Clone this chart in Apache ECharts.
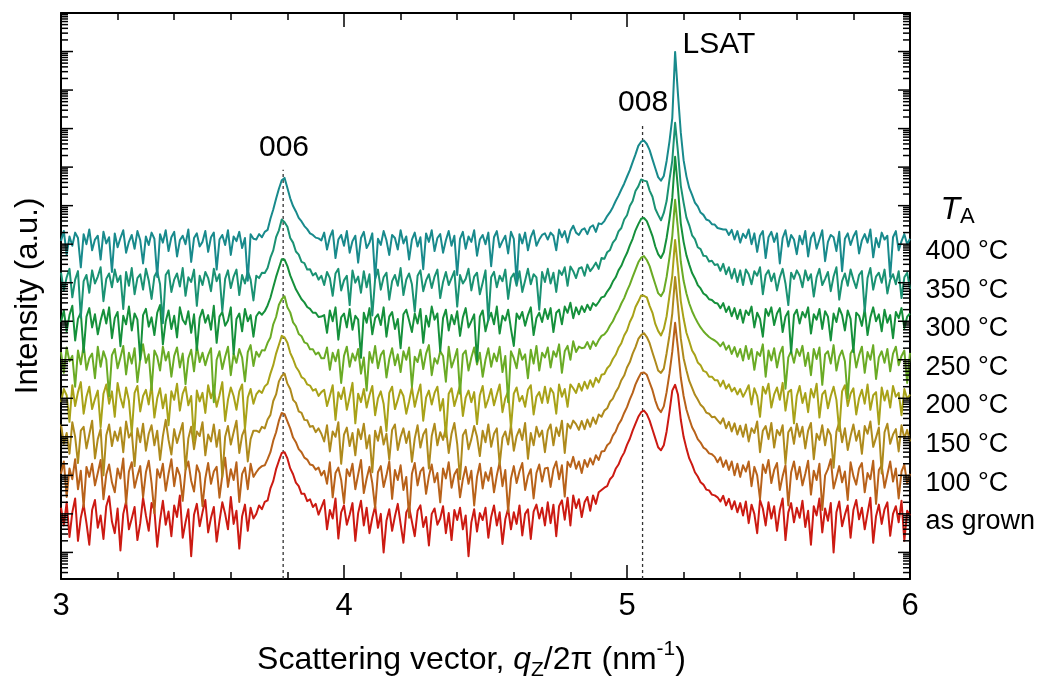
<!DOCTYPE html>
<html><head><meta charset="utf-8">
<script src="https://cdn.jsdelivr.net/npm/echarts/dist/echarts.min.js"></script>
<style>html,body{margin:0;padding:0;background:#fff}#c{width:1043px;height:679px}</style>
</head><body><div id="c"></div>
<script>
// ---------------- DATA ----------------
// Sampling grid of the scattering vector q_z/2π (nm^-1)
const qStart = 3.00, qStep = 0.01, qCount = 301;
// Series labels (bottom to top)
const seriesNames = ['as grown', '100 °C', '150 °C', '200 °C', '250 °C', '300 °C', '350 °C', '400 °C'];
// Intensities, given as 100 × log10(intensity, offset a.u.)
const logI_asGrown = [
116,70,130,40,104,140,30,90,124,76,20,110,136,64,96,35,120,146,80,50,114,5,100,132,60,88,118,32,76,142,96,56,128,110,15,84,134,72,106,42,122,92,148,38,78,112,-10,98,126,68,104,136,52,90,118,28,82,130,100,60,144,74,108,10,94,124,56,116,88,
100,122,112,131,135,166,185,216,238,258,260,244,218,203,181,172,152,152,133,138,118,126,98,117,
136,60,110,88,140,36,104,122,72,98,128,30,102,134,70,116,50,90,120,64,100,0,82,112,56,94,126,74,25,104,118,80,42,108,122,66,92,18,100,114,72,88,120,50,102,32,110,84,116,60,96,-10,78,112,54,102,84,116,38,92,122,70,104,22,86,114,60,104,74,122,44,100,112,35,106,124,88,116,70,
130,76,124,42,120,135,85,142,70,148,115,138,92,130,144,108,148,126,156,162,168,172,190,198,217,228,246,259,279,295,316,334,352,364,368,359,342,319,296,273,265,278,314,364,420,435,410,345,300,270,244,228,208,197,182,176,163,161,150,148,143,132,147,122,139,112,133,104,128,96,132,76,124,100,50,136,114,70,130,88,120,56,110,140,32,104,128,78,116,
90,134,66,108,20,120,96,140,52,114,82,128,0,104,132,68,98,122,38,110,136,86,116,60,102,142,25,94,124,74,112,130,43,100,120,78,134,30,108,96];
const logI_100 = [
204,236,144,218,190,242,164,212,118,222,196,230,174,206,240,138,202,228,182,156,218,192,244,126,210,234,168,198,224,143,208,238,180,102,216,194,230,160,204,242,172,220,200,134,214,236,186,158,226,206,120,192,232,178,210,222,142,200,246,170,216,188,234,131,204,220,164,230,196,
208,218,224,226,242,260,290,312,342,362,359,340,322,298,286,268,260,246,241,228,226,215,220,200,
212,178,234,143,206,220,188,128,216,198,230,164,202,240,154,192,222,180,115,208,224,170,200,236,139,214,188,226,162,196,90,204,232,174,210,220,152,198,228,182,206,130,218,192,234,168,202,216,143,190,222,178,212,122,196,230,166,208,186,220,156,200,234,172,214,105,192,224,180,210,232,162,198,216,140,206,228,184,218,
220,170,216,236,190,226,145,235,222,248,217,236,206,240,222,244,228,252,240,262,263,278,285,303,314,332,344,362,377,397,414,436,452,466,467,461,441,421,394,374,364,379,416,464,521,596,530,454,406,371,347,325,311,294,285,272,267,257,255,248,234,247,222,239,214,236,200,230,196,226,210,236,172,222,200,138,228,206,240,180,214,232,162,198,226,122,208,236,190,
222,174,204,238,150,212,188,230,110,200,216,242,166,194,224,182,210,136,234,198,176,218,232,156,206,190,238,126,214,226,168,202,236,184,218,140,210,228,178,204];
const logI_150 = [
332,282,310,256,338,300,232,316,326,270,306,342,244,294,320,200,304,332,276,314,290,324,260,340,298,312,224,322,286,334,264,308,330,278,316,240,302,344,292,254,320,284,310,336,215,296,326,268,314,302,338,252,306,288,332,274,318,195,300,328,280,312,342,258,304,322,236,294,316,
316,312,326,322,345,357,393,410,444,458,464,438,424,396,388,366,362,344,343,326,328,312,322,308,
288,330,262,314,300,338,230,306,324,276,310,252,320,294,334,270,304,208,316,290,326,280,308,241,318,332,266,300,322,284,314,235,296,330,272,306,320,218,302,334,278,312,292,324,258,308,336,282,190,304,318,268,294,328,300,250,316,286,332,274,308,322,228,298,314,280,330,264,302,320,292,336,243,310,278,326,300,316,260,
316,332,278,324,302,342,258,334,322,342,333,318,341,320,345,326,350,334,358,352,368,374,391,399,416,428,447,459,480,494,516,533,554,564,569,559,543,519,496,472,466,477,517,563,620,715,640,556,504,473,445,427,409,397,383,376,363,360,351,352,343,334,348,322,339,314,335,306,329,300,332,288,322,310,340,260,316,328,294,336,272,318,304,330,230,312,324,282,334,
300,326,270,316,336,242,308,292,330,278,320,304,220,314,338,286,322,266,302,332,290,316,256,328,308,340,274,298,324,205,312,334,282,306,320,262,330,296,318,288];
const logI_200 = [
390,424,408,339,434,380,416,442,360,404,430,372,398,420,325,412,436,386,418,352,440,402,376,428,394,310,414,432,366,406,422,384,436,350,400,426,374,410,330,418,396,438,368,412,430,382,406,290,420,392,414,362,434,400,424,378,408,442,341,396,428,406,370,418,436,320,402,424,386,
410,420,414,431,438,464,486,516,539,562,558,544,518,502,482,471,455,450,436,433,420,424,406,416,
422,380,406,434,344,416,398,428,370,404,440,335,412,390,424,376,408,432,356,400,418,386,315,414,430,372,396,422,406,360,392,428,378,410,436,342,402,420,384,414,430,368,398,300,412,426,380,406,434,354,402,420,390,416,333,408,432,376,398,424,382,410,436,364,400,418,324,412,428,392,406,378,422,434,358,404,416,388,430,
388,426,414,360,436,404,424,378,436,426,414,438,420,443,425,447,430,453,441,461,463,478,486,502,513,531,543,563,576,598,613,637,651,667,666,662,640,622,593,575,563,580,613,666,718,811,738,653,607,570,548,524,512,493,486,471,468,456,456,447,447,431,446,425,436,418,427,410,424,404,418,434,384,426,406,352,430,412,438,376,410,428,396,440,368,416,422,335,406,
432,388,414,364,424,402,438,350,410,420,374,406,430,396,315,418,434,380,412,426,358,400,422,386,436,370,408,416,332,428,394,420,376,432,404,414,356,424,398,410];
const logI_250 = [
520,466,532,496,510,430,524,488,538,474,504,516,452,534,482,522,500,405,512,528,478,506,536,462,518,490,530,442,502,540,492,514,422,524,508,472,534,498,520,456,510,532,480,516,437,504,526,470,536,494,518,486,512,530,390,500,522,476,508,534,460,516,492,528,506,444,520,538,484,
521,508,525,524,544,558,592,611,643,657,665,636,623,597,587,567,561,545,542,527,527,514,519,504,
504,532,474,518,496,526,440,510,534,482,516,498,528,464,506,420,520,492,536,478,512,524,454,502,530,486,514,468,522,500,532,430,508,494,526,476,516,538,460,504,490,522,510,443,534,480,502,528,412,514,524,472,506,532,488,518,456,500,530,482,516,496,534,468,510,390,522,504,478,528,500,514,452,526,490,536,472,518,506,
532,480,522,508,540,466,522,536,500,548,520,534,530,532,546,528,548,536,551,562,566,575,589,600,616,629,646,660,679,695,715,734,753,765,769,759,743,719,696,673,665,678,715,765,821,915,840,755,705,672,646,626,610,596,584,574,566,559,554,550,544,535,545,526,537,515,533,508,528,498,536,502,528,474,520,510,540,456,524,498,530,480,516,534,425,506,522,492,528,
510,536,484,518,460,528,502,532,435,514,522,490,538,472,508,524,496,400,516,530,480,512,534,466,520,500,538,450,506,522,492,528,470,516,534,486,510,524,440,518];
const logI_300 = [
598,628,574,616,640,550,606,622,520,612,634,584,618,566,602,630,594,636,556,608,624,535,614,592,638,576,620,604,500,616,632,586,610,564,622,642,540,600,628,580,614,558,636,604,592,626,570,618,525,608,630,596,616,578,640,544,612,624,588,602,636,515,606,620,574,632,600,616,560,
613,624,617,626,641,661,688,715,738,761,760,743,719,701,683,670,657,649,637,632,622,622,611,612,
616,570,628,600,636,552,610,620,584,632,578,614,604,505,622,596,634,566,608,618,590,636,560,612,624,580,606,530,618,630,602,572,620,594,632,544,614,586,638,604,620,522,608,630,576,616,592,626,562,610,634,584,600,618,495,612,628,574,604,622,592,638,568,614,602,630,580,536,620,606,624,588,616,636,564,608,622,598,632,
606,634,572,622,630,592,638,622,648,608,636,618,639,624,643,629,647,640,650,662,664,677,687,703,714,732,744,762,777,797,814,836,852,866,868,860,841,821,794,774,764,779,816,864,920,1027,945,854,806,771,747,725,711,694,685,672,667,657,655,648,646,634,647,624,638,613,634,606,630,596,628,616,638,584,622,606,560,632,614,636,590,620,634,572,612,626,518,616,630,
594,624,610,636,568,618,604,632,580,626,612,550,620,598,634,616,576,628,606,520,622,614,588,632,564,610,636,600,618,574,630,596,616,556,624,608,634,582,612,620];
const logI_350 = [
726,680,714,736,662,708,730,610,704,720,674,732,698,716,740,652,710,724,688,734,702,718,632,728,692,738,670,712,722,682,736,706,658,716,730,696,595,720,732,676,708,724,690,738,666,714,702,734,640,718,694,728,712,678,736,704,722,626,710,732,686,716,734,668,720,698,730,708,654,
718,712,726,725,738,765,784,818,836,864,857,845,816,804,781,773,754,751,734,735,719,725,708,718,
694,728,712,666,724,736,680,706,718,642,732,700,716,674,730,688,722,615,710,734,682,714,726,656,704,720,692,738,668,708,724,696,625,718,732,678,706,722,686,716,734,660,702,728,694,712,730,638,720,698,710,736,680,716,726,670,700,732,602,714,728,688,718,704,734,658,712,724,692,730,676,706,736,696,722,714,630,728,702,
736,698,726,676,732,720,740,692,742,730,712,737,740,718,747,730,740,752,736,764,762,779,785,804,813,833,842,864,875,899,912,938,950,968,965,963,939,923,892,876,862,881,912,967,1017,1115,1040,952,908,869,849,823,813,792,787,770,769,755,757,746,748,731,749,722,740,711,736,702,732,694,734,722,696,730,718,740,670,720,732,704,724,680,714,736,698,642,726,710,732,
718,688,732,706,722,664,714,736,694,710,728,678,716,740,656,704,724,692,734,708,686,720,730,625,712,738,682,716,726,700,734,672,708,722,696,730,660,714,726,684];
const logI_400 = [
808,834,772,820,796,830,816,740,826,800,838,784,812,822,760,832,802,818,728,828,792,816,836,778,806,824,788,834,810,750,820,798,830,814,715,826,804,836,782,818,832,768,810,822,800,838,754,816,828,794,806,834,780,818,830,734,812,824,798,836,772,820,808,832,790,816,705,826,814,
812,826,818,832,837,866,890,918,944,966,972,946,919,899,885,868,859,847,839,828,824,817,815,810,
830,786,818,836,764,812,824,796,834,778,808,822,752,816,832,790,804,828,710,814,798,834,810,772,824,816,786,836,802,820,760,812,830,794,818,735,828,806,836,782,816,826,778,810,834,796,822,720,814,832,788,820,806,836,770,812,824,800,830,743,818,834,792,808,822,776,832,814,700,826,802,830,784,818,836,796,812,824,828,
812,830,822,784,838,818,834,804,834,848,830,824,837,841,826,844,849,832,854,852,860,873,883,896,912,926,942,957,975,992,1013,1033,1055,1066,1069,1060,1044,1020,997,974,965,977,1016,1066,1127,1299,1190,1090,1018,976,946,928,908,898,882,876,864,861,852,851,842,840,838,838,824,837,812,834,804,827,816,838,800,828,780,822,834,764,818,832,806,828,750,816,836,794,824,812,774,
822,800,834,768,816,830,788,812,836,756,806,824,818,782,832,730,814,828,798,820,834,776,810,826,804,838,766,816,792,830,812,822,715,818,834,784,808,826,800,814];
const seriesLogI = [logI_asGrown, logI_100, logI_150, logI_200, logI_250, logI_300, logI_350, logI_400];
// x-axis tick labels
const xTickValues = [3, 4, 5, 6];
// Peak annotations: text, q position, log10 intensity of the label centre
const peakLabelText = ['006', '008', 'LSAT'];
const peakLabelQ = [3.788, 5.057, 5.325];
const peakLabelLogI = [10.50, 11.67, 13.18];
// Dashed reference lines at the film peak positions (q, log10 of top end)
const refLineQ = [3.785, 5.055];
const refLineTopLogI = [9.93, 11.10];

// ---------------- LAYOUT / STYLE ----------------
const FONT = "'Liberation Sans', Arial, Helvetica, sans-serif";
const seriesColors = ['#cc1a12', '#b8621a', '#ae8a1c', '#a8a218', '#6aab25', '#15903b', '#1a9273', '#188a8c'];
const labelLogI = [0.80, 1.80, 2.80, 3.80, 4.80, 5.80, 6.80, 7.80];
const Y_MIN = Math.pow(10, -0.69), Y_MAX = 1e14;

const toI = v => Math.pow(10, v / 100);
const qValues = Array.from({length: qCount}, (_, i) => +(qStart + i * qStep).toFixed(2));

const yTickData = [];
for (let d = -1; d <= 14; d++) {
  for (let m = 1; m <= 9; m++) {
    const v = m * Math.pow(10, d);
    if (v >= Y_MIN && v <= Y_MAX * 1.0001) yTickData.push([3, v, m === 1 ? 1 : 0]);
  }
}

const textBase = {fontFamily: FONT, color: '#000', textBorderWidth: 0, textBorderColor: 'transparent', textShadowBlur: 0, opacity: 1};

const series = [];
refLineQ.forEach((q, i) => {
  series.push({
    type: 'line', xAxisIndex: 0, yAxisIndex: 0, symbol: 'none', silent: true, animation: false, z: 1,
    data: [[q, Y_MIN], [q, Math.pow(10, refLineTopLogI[i])]],
    lineStyle: {color: '#333', width: 1.3, type: [3, 3]}
  });
});
seriesLogI.forEach((arr, k) => {
  series.push({
    name: seriesNames[k], type: 'line', xAxisIndex: 0, yAxisIndex: 0, symbol: 'none', sampling: null,
    animation: false, z: 2,
    data: qValues.map((q, i) => [q, toI(arr[i])]),
    lineStyle: {color: seriesColors[k], width: 2, join: 'round'}
  });
});
series.push({
  type: 'custom', xAxisIndex: 0, yAxisIndex: 0, silent: true, clip: false, animation: false, z: 10,
  encode: {x: 0, y: 1}, data: yTickData,
  renderItem(params, api) {
    const v = api.value(1), major = api.value(2);
    const pl = api.coord([3, v]), pr = api.coord([6, v]);
    const len = major ? 12 : 7;
    return {type: 'group', children: [
      {type: 'line', shape: {x1: pl[0], y1: pl[1], x2: pl[0] + len, y2: pl[1]}, style: {stroke: '#000', lineWidth: 1.5}},
      {type: 'line', shape: {x1: pr[0] - len, y1: pr[1], x2: pr[0], y2: pr[1]}, style: {stroke: '#000', lineWidth: 1.5}}
    ]};
  }
});
series.push({
  type: 'scatter', xAxisIndex: 0, yAxisIndex: 0, silent: true, animation: false, z: 11,
  symbolSize: 1, itemStyle: {color: 'rgba(0,0,0,0)'},
  data: peakLabelText.map((t, i) => ({value: [peakLabelQ[i], Math.pow(10, peakLabelLogI[i])], name: t})),
  label: Object.assign({show: true, position: 'inside', formatter: '{b}', fontSize: 30}, textBase)
});
const rightLabels = seriesNames.map((n, k) => ({value: [6, Math.pow(10, labelLogI[k])], name: n}));
rightLabels.push({
  value: [6, Math.pow(10, 8.88)], name: 'TA',
  label: {formatter: '{t|T}{a|A}', distance: 30,
    rich: {t: Object.assign({fontSize: 32, fontStyle: 'italic', lineHeight: 36}, textBase),
           a: Object.assign({fontSize: 22, lineHeight: 28, verticalAlign: 'bottom'}, textBase)}}
});
series.push({
  type: 'scatter', xAxisIndex: 0, yAxisIndex: 0, silent: true, animation: false, z: 11, clip: false,
  symbolSize: 1, itemStyle: {color: 'rgba(0,0,0,0)'},
  data: rightLabels,
  label: Object.assign({show: true, position: 'right', distance: 15, formatter: '{b}', fontSize: 27}, textBase)
});

const axisLineStyle = {show: true, onZero: false, lineStyle: {color: '#000', width: 2}};
const xCommon = {
  type: 'value', min: 3, max: 6, interval: 1,
  axisLine: axisLineStyle,
  axisTick: {show: true, inside: true, length: 14, lineStyle: {color: '#000', width: 1.5}},
  minorTick: {show: true, splitNumber: 5, length: 7, lineStyle: {color: '#000', width: 1.5}},
  splitLine: {show: false}, minorSplitLine: {show: false}
};
const yCommon = {
  type: 'log', min: Y_MIN, max: Y_MAX,
  axisLine: axisLineStyle, axisTick: {show: false}, minorTick: {show: false},
  axisLabel: {show: false}, splitLine: {show: false}, minorSplitLine: {show: false}
};

const option = {
  animation: false,
  backgroundColor: '#fff',
  grid: {left: 61, right: 133, top: 13, bottom: 100, containLabel: false, outerBoundsMode: 'none'},
  xAxis: [
    Object.assign({}, xCommon, {
      position: 'bottom',
      axisLabel: Object.assign({show: true, margin: 12, fontSize: 31,
        formatter: v => xTickValues.includes(v) ? String(v) : ''}, textBase),
      name: '{n|Scattering vector, }{i|q}{sub|Z}{n|/2π (nm}{sup|-1}{n|)}',
      nameLocation: 'middle', nameGap: 60,
      nameTextStyle: Object.assign({fontSize: 32, padding: [0, 28, 0, 0],
        rich: {
          n: Object.assign({fontSize: 32, lineHeight: 42}, textBase),
          i: Object.assign({fontSize: 32, fontStyle: 'italic', lineHeight: 42}, textBase),
          sub: Object.assign({fontSize: 21, lineHeight: 29, verticalAlign: 'bottom'}, textBase),
          sup: Object.assign({fontSize: 21, lineHeight: 25, verticalAlign: 'top'}, textBase)
        }}, textBase)
    }),
    Object.assign({}, xCommon, {position: 'top', axisLabel: {show: false}})
  ],
  yAxis: [
    Object.assign({}, yCommon, {position: 'left', name: 'Intensity (a.u.)', nameLocation: 'middle', nameGap: 17,
      nameTextStyle: Object.assign({fontSize: 31}, textBase)}),
    Object.assign({}, yCommon, {position: 'right'})
  ],
  series: series
};
const chart = echarts.init(document.getElementById('c'), null, {renderer: 'canvas', width: 1043, height: 679});
chart.setOption(option);
</script>
</body></html>
